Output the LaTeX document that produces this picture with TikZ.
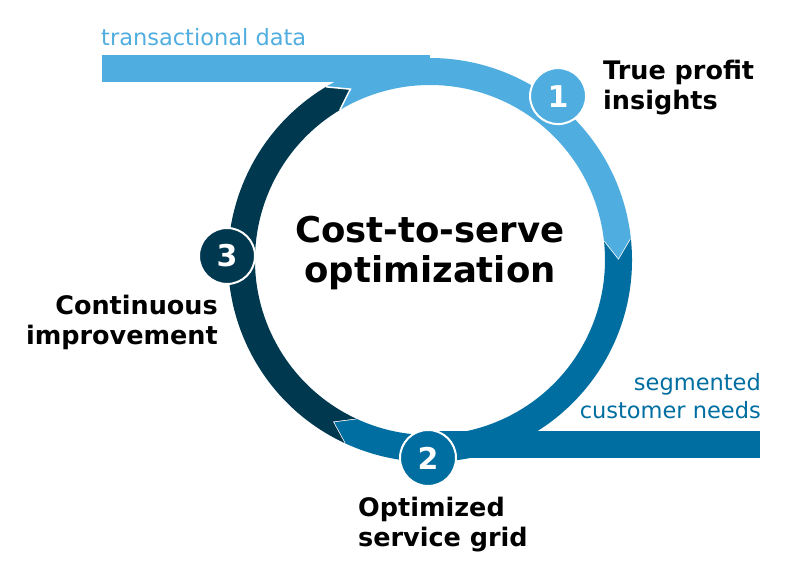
\documentclass[tikz,border=0pt]{standalone}
\usetikzlibrary{calc}
\usepackage{fontspec}
\setmainfont{DejaVu Sans}
\definecolor{lb}{HTML}{4FADE0}
\definecolor{mb}{HTML}{006EA0}
\definecolor{db}{HTML}{00384F}
\begin{document}
\begin{tikzpicture}[x=1pt,y=1pt,
  badge/.style={circle,fill=#1,draw=white,line width=2pt,minimum size=56pt,inner sep=0pt,text=white,font=\bfseries\fontsize{30}{30}\selectfont},
  lbl/.style={font=\bfseries\fontsize{25.5}{30}\selectfont,align=left,inner sep=0pt},
  sm/.style={font=\fontsize{22.5}{28}\selectfont,inner sep=0pt}]
\useasboundingbox (0,0) rectangle (792,583);
\def\ro{202}\def\ri{175}\def\rm{188.5}
\coordinate (c) at (430,323);
\newcommand\seg[3]{%
  \fill[#3] ($(c)+(#1:\ro)$) arc[start angle=#1,end angle=#2,radius=\ro]
    -- ($(c)+(#2-6:\rm)$) -- ($(c)+(#2:\ri)$)
    arc[start angle=#2,end angle=#1,radius=\ri] -- ($(c)+(#1-6:\rm)$) -- cycle;
  \draw[white,line width=1.5pt] ($(c)+(#2:\ro)$) -- ($(c)+(#2-6:\rm)$) -- ($(c)+(#2:\ri)$);}
\fill[lb] (102,501) rectangle (430,528);
\fill[mb] (430,125) rectangle (760,152);
\seg{121}{6}{lb}
\seg{6}{-115}{mb}
\seg{245}{121}{db}
\node[badge=lb] (b1) at ($(c)+(52:208)$) {1};
\node[badge=mb] (b2) at (428,125) {2};
\node[badge=db] (b3) at (227,327) {3};
\node[font=\bfseries\fontsize{35.5}{40}\selectfont,align=center] (t) at (430,330) {Cost-to-serve\\optimization};
\node[lbl,anchor=west] (l1) at (603,495) {True profit\\insights};
\node[lbl,anchor=east,align=right] (l3) at (218,261) {Continuous\\improvement};
\node[lbl,anchor=west] (l2) at (358,58) {Optimized\\service grid};
\node[sm,text=lb,anchor=west] (td) at (101,546) {transactional data};
\node[sm,text=mb,anchor=east,align=right] (sc) at (761,187) {segmented\\customer needs};
\end{tikzpicture}
\end{document}
